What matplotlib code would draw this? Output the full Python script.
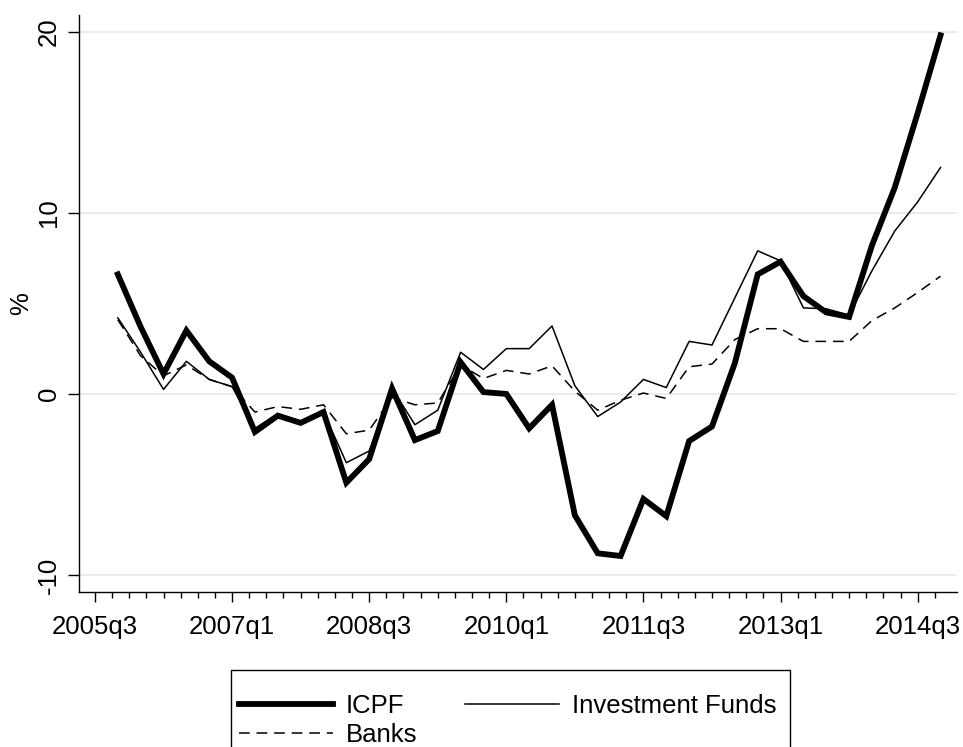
import matplotlib
matplotlib.use("Agg")
import matplotlib.pyplot as plt
import numpy as np
import pandas as pd
from matplotlib.patches import Rectangle

plt.rcParams['font.family'] = ['Liberation Sans', 'DejaVu Sans']

# quarterly growth rates, 2005q4 .. 2014q4
quarters = pd.period_range('2005Q4', '2014Q4', freq='Q')
icpf = [6.6, 3.7, 1.1, 3.5, 1.8, 0.9, -2.1, -1.2, -1.6, -1.0, -4.9, -3.6, 0.3,
        -2.55, -2.05, 1.75, 0.1, 0.0, -1.9, -0.6, -6.7, -8.8, -8.95, -5.8, -6.75,
        -2.6, -1.8, 1.7, 6.6, 7.3, 5.4, 4.5, 4.25, 8.2, 11.4, 15.5, 19.8]
inv_funds = [4.2, 2.3, 0.25, 1.8, 0.8, 0.4, -1.9, -1.1, -1.5, -1.0, -3.8, -3.15, 0.3,
             -1.7, -0.9, 2.3, 1.35, 2.5, 2.5, 3.75, 0.45, -1.25, -0.45, 0.8, 0.35,
             2.9, 2.7, 5.3, 7.9, 7.35, 4.75, 4.7, 4.35, 6.8, 9.0, 10.6, 12.5]
banks = [4.1, 2.1, 1.0, 1.6, 0.8, 0.4, -1.0, -0.7, -0.85, -0.6, -2.2, -2.0, -0.2,
         -0.6, -0.5, 1.6, 0.85, 1.3, 1.1, 1.55, 0.15, -0.9, -0.35, 0.05, -0.25,
         1.5, 1.65, 3.0, 3.6, 3.6, 2.9, 2.9, 2.9, 4.05, 4.75, 5.6, 6.5]

tick_labels = ['2005q3', '2007q1', '2008q3', '2010q1', '2011q3', '2013q1', '2014q3']
y_ticks = [-10, 0, 10, 20]

base = pd.Period('2005Q3', freq='Q').ordinal
x = np.array([q.ordinal - base for q in quarters])
major_x = [pd.Period(lbl.upper(), freq='Q').ordinal - base for lbl in tick_labels]

fig = plt.figure(figsize=(9.63, 7.47), dpi=100)
ax = fig.add_axes([0.082, 0.2079, 0.9115, 0.772])

l_icpf, = ax.plot(x, icpf, color='black', lw=4.2, solid_joinstyle='miter', zorder=3)
l_if, = ax.plot(x, inv_funds, color='black', lw=1.1, zorder=4)
l_banks, = ax.plot(x, banks, color='black', lw=1.1, dashes=(7, 4.5), zorder=4)

ax.set_xlim(-0.7, 37.71)
ax.set_ylim(-10.92, 20.92)
ax.set_yticks(y_ticks)
ax.set_yticklabels([str(v) for v in y_ticks], rotation=90, va='center', fontsize=18.5)
ax.set_xticks(major_x)
ax.set_xticklabels(tick_labels, fontsize=18.5)
ax.set_xticks(np.arange(0, 36.8, 0.75), minor=True)
ax.tick_params(axis='y', length=8, width=1, pad=5)
ax.tick_params(axis='x', which='major', length=7.5, width=1, pad=9)
ax.tick_params(axis='x', which='minor', length=4.5, width=1)
ax.grid(axis='y', color='#ebe8e8', lw=1.3, zorder=0)
for side in ['top', 'right']:
    ax.spines[side].set_visible(False)
for side in ['left', 'bottom']:
    ax.spines[side].set_linewidth(1.0)
ax.set_ylabel('%', fontsize=18.5, labelpad=3)

# legend: column-wise fill gives ICPF / Investment Funds on row 1, Banks on row 2
fig.legend([l_icpf, l_banks, l_if], ['ICPF', 'Banks', 'Investment Funds'],
           loc='upper left', bbox_to_anchor=(239 / 963, 1 - 694 / 747),
           ncol=2, fontsize=18.5, frameon=False, handlelength=3.66,
           handletextpad=0.5, columnspacing=1.85, labelspacing=0.2,
           borderpad=0, borderaxespad=0)
fig.patches.append(Rectangle((231 / 963, -0.05), (790 - 231) / 963, 0.05 + 1 - 670 / 747,
                             transform=fig.transFigure, fill=False,
                             edgecolor='black', lw=1.0))

fig.savefig('out.png', dpi=100)
